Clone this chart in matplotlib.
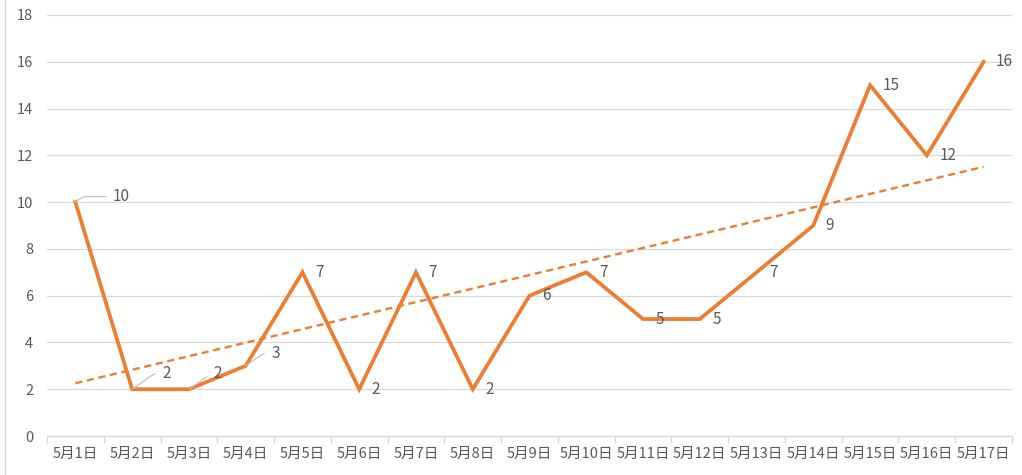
import matplotlib
matplotlib.use("Agg")
import matplotlib.pyplot as plt
import numpy as np

plt.rcParams['font.family'] = ['Noto Sans CJK SC', 'DejaVu Sans']

categories = ["5月1日", "5月2日", "5月3日", "5月4日", "5月5日", "5月6日", "5月7日", "5月8日",
              "5月9日", "5月10日", "5月11日", "5月12日", "5月13日", "5月14日", "5月15日",
              "5月16日", "5月17日"]
values = [10, 2, 2, 3, 7, 2, 7, 2, 6, 7, 5, 5, 7, 9, 15, 12, 16]
y_ticks = [0, 2, 4, 6, 8, 10, 12, 14, 16, 18]

orange = "#ED7D31"
grid_c = "#D9D9D9"
text_c = "#595959"

fig = plt.figure(figsize=(10.22, 4.75), dpi=100)
ax = fig.add_axes([47/1022, 1-436/475, (1012-47)/1022, (436-15)/475])

x = np.arange(len(values))
ax.plot(x, values, color=orange, lw=2.7, solid_joinstyle='miter', zorder=3)

# linear trendline
coef = np.polyfit(x, values, 1)
ax.plot(x, np.polyval(coef, x), color=orange, lw=1.7, ls=(0, (3, 2)), zorder=2)

ax.set_xlim(-0.5, len(values) - 0.5)
ax.set_ylim(0, 18)
ax.set_yticks(y_ticks)
ax.set_yticklabels([str(t) for t in y_ticks])
ax.set_xticks(x)
ax.set_xticklabels(categories)
ax.set_xticks(np.arange(-0.5, len(values)), minor=True)
ax.tick_params(axis='x', which='major', length=0, pad=8, labelsize=10.5, labelcolor=text_c)
ax.tick_params(axis='x', which='minor', length=5, color=grid_c, width=1)
ax.tick_params(axis='y', length=0, pad=10, labelsize=10.5, labelcolor=text_c)
ax.grid(axis='y', color=grid_c, lw=0.9)
ax.set_axisbelow(True)
for s in ['top', 'right', 'left']:
    ax.spines[s].set_visible(False)
ax.spines['bottom'].set_color(grid_c)
ax.spines['bottom'].set_linewidth(1)

# data labels
leader = {0: (27, 4), 1: (21.5, 11), 2: (17.5, 11), 3: (18.5, 9)}
for i, v in enumerate(values):
    if i in leader:
        dx, dy = leader[i]
        ax.annotate(str(v), xy=(i, v), xytext=(dx, dy), textcoords='offset points',
                    ha='left', va='center', fontsize=11, color=text_c,
                    arrowprops=dict(arrowstyle='-', color='#BFBFBF', lw=0.9,
                                    relpos=(0, 0.5), shrinkA=3, shrinkB=0,
                                    connectionstyle='angle,angleA=0,angleB=35,rad=3'))
    else:
        ax.annotate(str(v), xy=(i, v), xytext=(9, 0), textcoords='offset points',
                    ha='left', va='center', fontsize=11, color=text_c)

# left chart border
fig.add_artist(plt.Line2D([5/1022, 5/1022], [0, 1], color=grid_c, lw=1))

fig.savefig("out.png", dpi=100)
